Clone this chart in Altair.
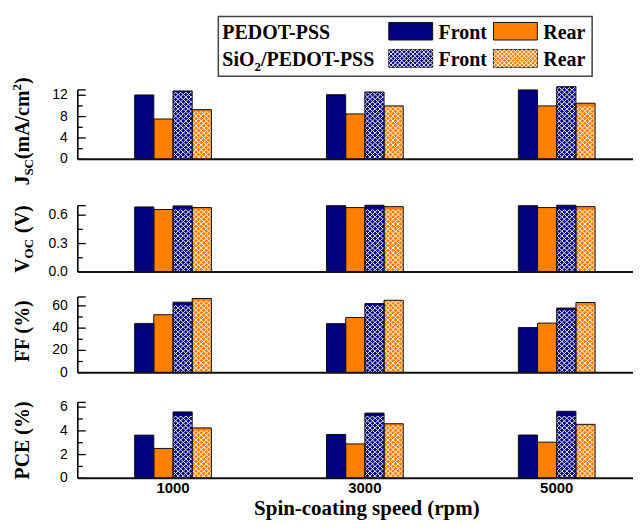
import altair as alt
import pandas as pd

# ---------------- data ----------------
speeds = ["1000", "3000", "5000"]
series_keys = ["PF", "PR", "SF", "SR"]          # PEDOT front/rear, SiO2/PEDOT front/rear
series_colors = ["#000080", "#FF8000", "#000080", "#FF8000"]
hatched_keys = ["SF", "SR"]

jsc_pedot_front = [12.05, 12.1, 13.0]
jsc_pedot_rear = [7.55, 8.5, 10.0]
jsc_sio2_front = [12.8, 12.6, 13.6]
jsc_sio2_rear = [9.3, 10.0, 10.5]

voc_pedot_front = [0.687, 0.700, 0.700]
voc_pedot_rear = [0.660, 0.680, 0.680]
voc_sio2_front = [0.698, 0.705, 0.705]
voc_sio2_rear = [0.680, 0.690, 0.690]

ff_pedot_front = [44.2, 44.0, 40.5]
ff_pedot_rear = [52.0, 49.5, 44.5]
ff_sio2_front = [63.3, 62.0, 58.0]
ff_sio2_rear = [66.6, 65.0, 63.0]

pce_pedot_front = [3.64, 3.70, 3.65]
pce_pedot_rear = [2.52, 2.90, 3.05]
pce_sio2_front = [5.60, 5.50, 5.65]
pce_sio2_rear = [4.25, 4.60, 4.55]

jsc_ticks = [0, 4, 8, 12]
jsc_labels = ["0", "4", "8", "12"]
voc_ticks = [0.0, 0.3, 0.6]
voc_labels = ["0.0", "0.3", "0.6"]
ff_ticks = [0, 20, 40, 60]
ff_labels = ["0", "20", "40", "60"]
pce_ticks = [0, 2, 4, 6]
pce_labels = ["0", "2", "4", "6"]

legend_rows = ["PEDOT-PSS", "SiO2/PEDOT-PSS"]
legend_cols = ["Front", "Rear"]

# ---------------- style / layout ----------------
SERIF = "Liberation Serif"
SANS = "Liberation Sans"
W = 557
PAD_IN, PAD_OUT, ALIGN = 0.6, 0.247, 0.6
STEP = W / (3 - PAD_IN + 2 * PAD_OUT)
CELL = STEP * (1 - PAD_IN) / 4 / 4       # hatch cell (4 cells per bar)

CHAR_W = {"J": .5, "S": .556, "C": .722, "(": .333, "m": .833, "A": .722, "/": .278,
          "c": .444, "2": .5, ")": .333, "V": .722, "O": .778, " ": .25, "F": .611,
          "%": 1.0, "P": .611, "E": .667, "i": .278, "D": .722, "T": .667, "-": .333}


def tw(s, size):
    return sum(CHAR_W.get(ch, 0.5) for ch in s) * size


xscale = alt.Scale(domain=speeds, paddingInner=PAD_IN, paddingOuter=PAD_OUT, align=ALIGN)


def text_layer(t, x, y, size, angle=0, align="left", font=SERIF, weight="bold"):
    return alt.Chart(pd.DataFrame({"t": [t]})).mark_text(
        align=align, baseline="alphabetic", font=font, fontWeight=weight,
        fontSize=size, angle=angle, color="black"
    ).encode(text="t:N", x=alt.value(x), y=alt.value(y))


def vtitle(pieces, cx, cy):
    # pieces: (text, font size, sideways shift, gap before)
    total = sum(tw(t, s) + g for t, s, _, g in pieces)
    y = cy + total / 2
    out = []
    for t, s, shift, g in pieces:
        y -= g
        out.append(text_layer(t, cx + shift, y, s, angle=270))
        y -= tw(t, s)
    return out


def panel(vals, pp, height, top, major, labels, minor, pieces, title_cy, last=False):
    dmax = height / pp
    yscale = alt.Scale(domain=[0, dmax], nice=False, zero=True)
    rows = []
    for key, series_vals in zip(series_keys, vals):
        for s, v in zip(speeds, series_vals):
            rows.append({"speed": s, "series": key, "value": v})
    df = pd.DataFrame(rows)

    hrows = []
    for key, series_vals in zip(series_keys, vals):
        if key not in hatched_keys:
            continue
        k0 = series_keys.index(key) * 4
        for s, v in zip(speeds, series_vals):
            nrows = int((v * pp) // CELL)
            for r in range(nrows):
                for j in range(4):
                    hrows.append({"speed": s, "sub": k0 + j, "yv": (r + 0.5) * CELL / pp})
    hdf = pd.DataFrame(hrows)

    bars = alt.Chart(df).mark_bar(strokeWidth=0).encode(
        x=alt.X("speed:N", scale=xscale, axis=None),
        xOffset=alt.XOffset("series:N", sort=series_keys,
                            scale=alt.Scale(paddingInner=0, paddingOuter=0)),
        y=alt.Y("value:Q", scale=yscale, axis=None),
        color=alt.Color("series:N", scale=alt.Scale(domain=series_keys, range=series_colors),
                        legend=None),
    )
    hatch = alt.Chart(hdf).mark_point(
        shape="diamond", size=CELL * CELL, filled=False, stroke="white",
        strokeWidth=1, opacity=1
    ).encode(
        x=alt.X("speed:N", scale=xscale, axis=None),
        xOffset=alt.XOffset("sub:O", scale=alt.Scale(domain=list(range(16)),
                                                     paddingInner=0, paddingOuter=0)),
        y=alt.Y("yv:Q", scale=yscale, axis=None),
    )
    outline = alt.Chart(df).mark_bar(fillOpacity=0, stroke="#111111", strokeWidth=1).encode(
        x=alt.X("speed:N", scale=xscale, axis=None),
        xOffset=alt.XOffset("series:N", sort=series_keys,
                            scale=alt.Scale(paddingInner=0, paddingOuter=0)),
        y=alt.Y("value:Q", scale=yscale, axis=None),
    )
    major_t = alt.Chart(pd.DataFrame({"v": list(major) + [top]})).mark_rule(
        color="black", strokeWidth=1.3).encode(
        x=alt.value(0), x2=alt.value(8), y=alt.Y("v:Q", scale=yscale, axis=None))
    minor_t = alt.Chart(pd.DataFrame({"v": minor})).mark_rule(
        color="black", strokeWidth=1.3).encode(
        x=alt.value(0), x2=alt.value(5), y=alt.Y("v:Q", scale=yscale, axis=None))
    yline = alt.Chart(pd.DataFrame({"a": [0], "b": [top]})).mark_rule(
        color="black", strokeWidth=1.6).encode(
        x=alt.value(0), y=alt.Y("a:Q", scale=yscale, axis=None), y2="b:Q")
    xline = alt.Chart(pd.DataFrame({"a": [0]})).mark_rule(
        color="#111111", strokeWidth=2).encode(
        x=alt.value(0), x2=alt.value(W), y=alt.Y("a:Q", scale=yscale, axis=None))
    ylabels = alt.Chart(pd.DataFrame({"v": major, "t": labels})).mark_text(
        align="right", baseline="middle", font=SANS, fontSize=14, color="black"
    ).encode(text="t:N", x=alt.value(-10), y=alt.Y("v:Q", scale=yscale, axis=None))

    layers = [bars, hatch, outline, major_t, minor_t, yline, xline, ylabels]
    layers += vtitle(pieces, -49, title_cy)
    if last:
        xlabels = alt.Chart(pd.DataFrame({"speed": speeds})).mark_text(
            align="center", baseline="middle", font=SANS, fontSize=15,
            fontWeight="bold", color="black"
        ).encode(text="speed:N", x=alt.X("speed:N", scale=xscale, axis=None),
                 y=alt.value(height + 10))
        layers.append(xlabels)
        layers.append(text_layer("Spin-coating speed (rpm)", 290, 143, 21, align="center"))
    return alt.layer(*layers).properties(width=W, height=height).resolve_scale(
        xOffset="independent")


# ---------------- legend panel ----------------
box = alt.Chart(pd.DataFrame({"x1": [141], "x2": [516], "y1": [7.7], "y2": [67.7]})).mark_rect(
    fill="white", stroke="#444444", strokeWidth=1.5).encode(
    x=alt.X("x1:Q", scale=None), x2="x2:Q", y=alt.Y("y1:Q", scale=None), y2="y2:Q")

sw_x = [312, 417]
sw_y = [13.7, 41.0]
SW_W, SW_H = 44, 17.6
sw_rows = []
for ri in range(2):
    for ci in range(2):
        sw_rows.append({"x1": sw_x[ci], "x2": sw_x[ci] + SW_W, "y1": sw_y[ri],
                        "y2": sw_y[ri] + SW_H, "c": series_colors[ci]})
swatches = alt.Chart(pd.DataFrame(sw_rows)).mark_rect(stroke="#111111", strokeWidth=1).encode(
    x=alt.X("x1:Q", scale=None), x2="x2:Q", y=alt.Y("y1:Q", scale=None), y2="y2:Q",
    fill=alt.Fill("c:N", scale=None))

LC = 4.4
lh = []
for ci in range(2):
    for i in range(10):
        for k in range(4):
            lh.append({"x": sw_x[ci] + (i + 0.5) * LC, "y": sw_y[1] + (k + 0.5) * LC})
leg_hatch = alt.Chart(pd.DataFrame(lh)).mark_point(
    shape="diamond", size=LC * LC, filled=False, stroke="white", strokeWidth=1, opacity=1
).encode(x=alt.X("x:Q", scale=None), y=alt.Y("y:Q", scale=None))

x0 = 145
lt = [
    {"t": legend_rows[0], "x": x0, "y": 30.3, "s": 20},
    {"t": "SiO", "x": x0, "y": 57.0, "s": 20},
    {"t": "2", "x": x0 + tw("SiO", 20), "y": 62.0, "s": 13},
    {"t": "/PEDOT-PSS", "x": x0 + tw("SiO", 20) + tw("2", 13), "y": 57.0, "s": 20},
    {"t": legend_cols[0], "x": 362, "y": 30.3, "s": 20},
    {"t": legend_cols[1], "x": 467, "y": 30.3, "s": 20},
    {"t": legend_cols[0], "x": 362, "y": 57.0, "s": 20},
    {"t": legend_cols[1], "x": 467, "y": 57.0, "s": 20},
]
leg_text = alt.Chart(pd.DataFrame(lt)).mark_text(
    align="left", baseline="alphabetic", font=SERIF, fontWeight="bold", color="black"
).encode(text="t:N", x=alt.X("x:Q", scale=None), y=alt.Y("y:Q", scale=None),
         size=alt.Size("s:Q", scale=None))

legend_panel = alt.layer(box, swatches, leg_hatch, leg_text).properties(width=W, height=72)

# ---------------- panels ----------------
p_jsc = panel([jsc_pedot_front, jsc_pedot_rear, jsc_sio2_front, jsc_sio2_rear],
              5.36, 79, 13, jsc_ticks, jsc_labels, [2, 6, 10],
              [("J", 20, 0, 0), ("SC", 13, 4, 0), ("(mA/cm", 20, 0, 0), ("2", 13, -8, 0),
               (")", 20, 0, 0)], 51)
p_voc = panel([voc_pedot_front, voc_pedot_rear, voc_sio2_front, voc_sio2_rear],
              95, 113, 0.7, voc_ticks, voc_labels, [0.15, 0.45],
              [("V", 20, 0, 0), ("OC", 13, 4, 0), ("(V)", 20, 0, 6)], 80)
p_ff = panel([ff_pedot_front, ff_pedot_rear, ff_sio2_front, ff_sio2_rear],
             1.117, 101, 68, ff_ticks, ff_labels, [10, 30, 50],
             [("FF (%)", 20, 0, 0)], 59)
p_pce = panel([pce_pedot_front, pce_pedot_rear, pce_sio2_front, pce_sio2_rear],
              11.9, 106, 6.4, pce_ticks, pce_labels, [1, 3, 5],
              [("PCE (%)", 20, 0, 0)], 68, last=True)

chart = alt.vconcat(legend_panel, p_jsc, p_voc, p_ff, p_pce, spacing=0, bounds="flush").properties(
    padding={"left": 3, "top": 0, "right": 0, "bottom": 0}
).configure_view(stroke=None)

chart.save("out.html", embed_options={"renderer": "svg", "actions": False})
